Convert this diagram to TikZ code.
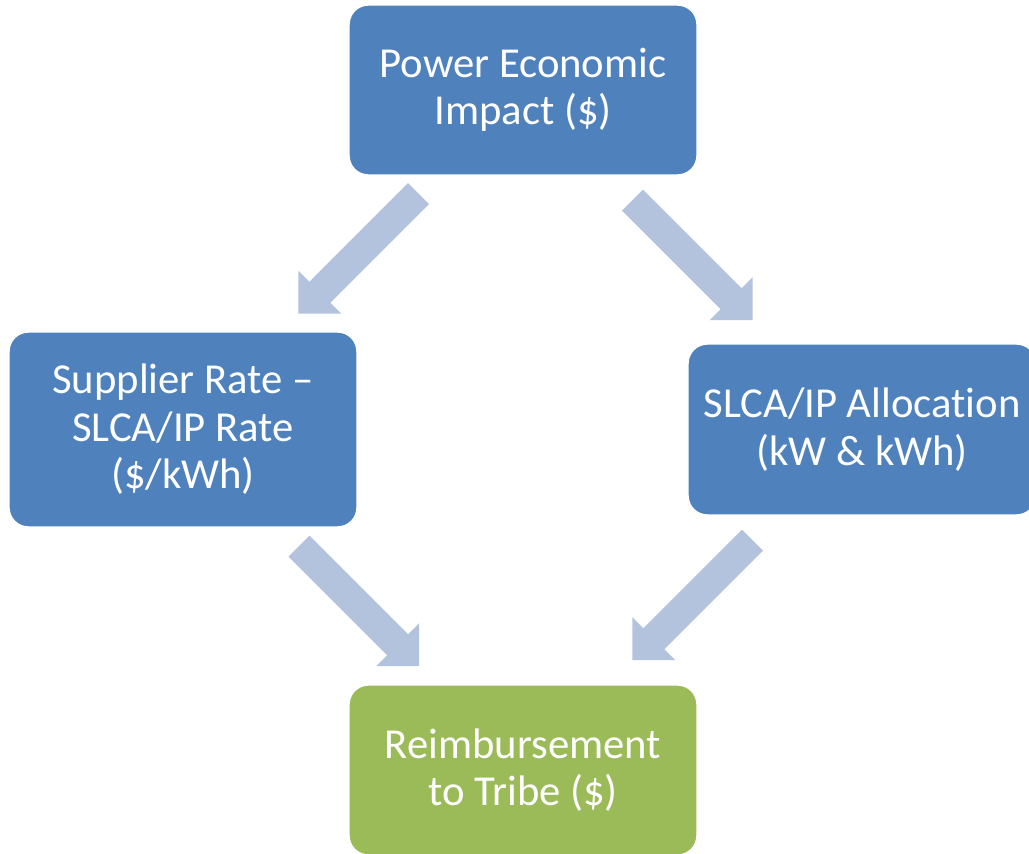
\documentclass[tikz,border=0pt]{standalone}
\usepackage{fontspec}
\setmainfont[Ligatures=NoCommon]{Carlito}
\definecolor{boxblue}{HTML}{4F81BD}
\definecolor{boxgreen}{HTML}{9BBB59}
\definecolor{arrowfill}{HTML}{B3C3DE}
\begin{document}
\begin{tikzpicture}[x=0.02cm,y=-0.02cm,
  stepbox/.style={rounded corners=11pt, draw=white, line width=0.8pt, fill=boxblue,
    text=white, align=center, inner sep=0pt,
    font=\fontsize{24.3}{27}\selectfont},
  blockarr/.pic={\fill[arrowfill] (0,-14.85) -- (139.6,-14.85) -- (139.6,-30.4) -- (170,0)
      -- (139.6,30.4) -- (139.6,14.85) -- (0,14.85) -- cycle;}
]
\useasboundingbox (0,0) rectangle (1029,853);
\begin{scope}
\clip (0,0) rectangle (1029,853);
\node[stepbox, minimum width=6.96cm, minimum height=3.4cm] (top) at (523,90) {Power Economic\\Impact (\$)};
\node[stepbox, minimum width=6.96cm, minimum height=3.9cm] (left) at (183,429.5) {Supplier Rate --\\SLCA/IP Rate\\(\$/kWh)};
\node[stepbox, minimum width=6.96cm, minimum height=3.42cm] (right) at (862,429.5) {SLCA/IP Allocation\\(kW \& kWh)};
\node[stepbox, fill=boxgreen, minimum width=6.96cm, minimum height=3.4cm] (bottom) at (523,770) {Reimbursement\\to Tribe (\$)};
\coordinate (a1) at (418.5,193.5);
\coordinate (a2) at (632.5,200);
\coordinate (a3) at (299,546);
\coordinate (a4) at (752.5,540);
\path (a1) pic[rotate=225] {blockarr};
\path (a2) pic[rotate=-45] {blockarr};
\path (a3) pic[rotate=-45] {blockarr};
\path (a4) pic[rotate=225] {blockarr};
\end{scope}
\end{tikzpicture}
\end{document}
